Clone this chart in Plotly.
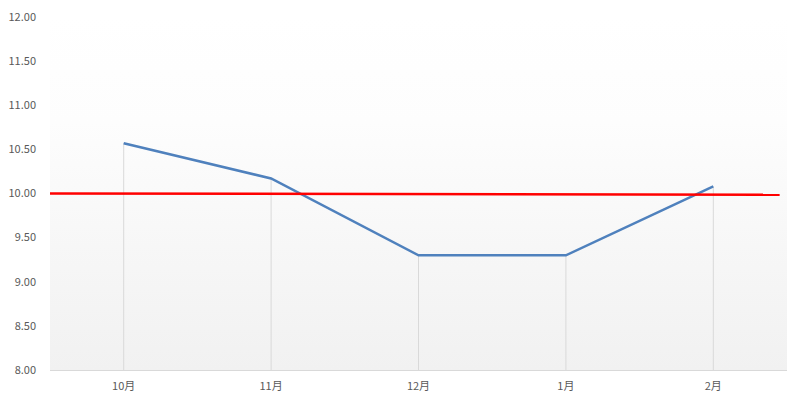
import plotly.graph_objects as go

months = ["10月", "11月", "12月", "1月", "2月"]
values = [10.57, 10.17, 9.30, 9.30, 10.08]
target_x = [-0.5, 4.45]
target_y = [10.00, 9.985]
y_min, y_max = 8.0, 12.0
y_ticks = [8.0, 8.5, 9.0, 9.5, 10.0, 10.5, 11.0, 11.5, 12.0]

pos = list(range(len(months)))
x_lo, x_hi = -0.5, len(months) - 0.5

fig = go.Figure()

# gradient background for plot area
fig.add_trace(go.Scatter(
    x=[x_lo, x_hi, x_hi, x_lo], y=[y_min, y_min, y_max, y_max],
    fill="toself", mode="none", hoverinfo="skip", showlegend=False,
    fillgradient=dict(type="vertical",
                      colorscale=[[0, "#f1f1f1"], [0.7, "#fdfdfd"], [1, "#ffffff"]]),
))

# drop lines
dx, dy = [], []
for p, v in zip(pos, values):
    dx += [p, p, None]
    dy += [v, y_min, None]
fig.add_trace(go.Scatter(x=dx, y=dy, mode="lines",
                         line=dict(color="#d9d9d9", width=1),
                         hoverinfo="skip", showlegend=False))

fig.add_trace(go.Scatter(x=pos, y=values, mode="lines",
                         line=dict(color="#4f81bd", width=2.5),
                         showlegend=False))

fig.add_trace(go.Scatter(x=target_x, y=target_y, mode="lines",
                         line=dict(color="#ff0000", width=2.5),
                         showlegend=False))

font = dict(family="Noto Sans CJK SC, Liberation Sans, sans-serif", size=11, color="#595959")
fig.update_layout(
    width=801, height=403,
    margin=dict(l=42, r=22, t=9, b=41),
    paper_bgcolor="white", plot_bgcolor="white",
    font=font,
    xaxis=dict(range=[x_lo, x_hi], tickvals=pos, ticktext=months, showgrid=False,
               showline=True, linecolor="#d9d9d9", linewidth=1,
               ticks="", tickfont=font, zeroline=False, automargin=False,
               ticklabelstandoff=6),
    yaxis=dict(range=[y_min, y_max], tickvals=y_ticks, tickformat=".2f",
               showgrid=False, zeroline=False, showline=False, ticks="",
               ticklabelstandoff=13, tickfont=font, automargin=False,
               ticklabeloverflow="allow"),
)

fig.write_html("out.html")
